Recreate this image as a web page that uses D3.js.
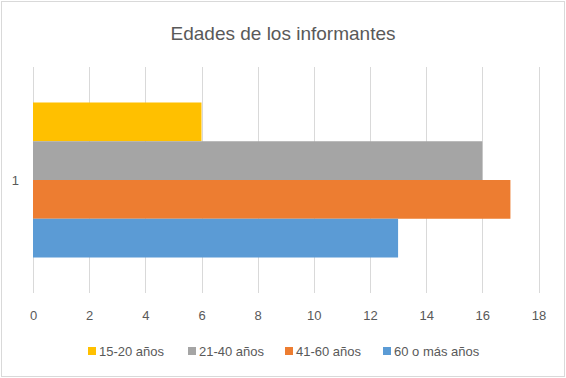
<!DOCTYPE html>
<html>
<head>
<meta charset="utf-8">
<script src="https://d3js.org/d3.v7.min.js"></script>
<style>
body { margin: 0; background: #fff; }
svg text { font-family: "Liberation Sans", Arial, sans-serif; fill: #595959; }
</style>
</head>
<body>
<div id="chart"></div>
<script>
var categories = ["1"];
var series = ["15-20 años", "21-40 años", "41-60 años", "60 o más años"];
var values = [6, 16, 17, 13];
var colours = ["#FFC000", "#A5A5A5", "#ED7D31", "#5B9BD5"];
var ticks = [0, 2, 4, 6, 8, 10, 12, 14, 16, 18];

function init() {
	var w = 566;
	var h = 378;

	var svg = d3.select("#chart")
		.append("svg")
		.attr("width", w)
		.attr("height", h);

	// outer border
	svg.append("rect")
		.attr("x", 1.5).attr("y", 1.5)
		.attr("width", w - 3).attr("height", h - 3)
		.attr("fill", "#fff")
		.attr("stroke", "#D9D9D9")
		.attr("stroke-width", 1);

	svg.append("text")
		.attr("x", w / 2)
		.attr("y", 40)
		.attr("text-anchor", "middle")
		.style("font-size", "19px")
		.text("Edades de los informantes");

	var x = d3.scaleLinear()
		.domain([0, 18])
		.range([33, 538.5]);

	var y = d3.scaleBand()
		.domain(categories)
		.range([67, 293])
		.paddingInner(0)
		.paddingOuter(0.229);

	var ys = d3.scaleBand()
		.domain(series)
		.range([0, y.bandwidth()]);

	// gridlines
	svg.append("g")
		.selectAll("line")
		.data(ticks)
		.join("line")
			.attr("x1", d => Math.round(x(d)) + 0.5)
			.attr("x2", d => Math.round(x(d)) + 0.5)
			.attr("y1", 67)
			.attr("y2", 293)
			.attr("stroke", "#D9D9D9")
			.attr("stroke-width", 1);

	// bars
	svg.append("g")
		.selectAll("g")
		.data(categories)
		.join("g")
			.attr("transform", d => `translate(0,${y(d)})`)
		.selectAll("rect")
		.data(series.map((s, i) => ({ s: s, v: values[i], c: colours[i] })))
		.join("rect")
			.attr("x", x(0))
			.attr("y", d => ys(d.s))
			.attr("width", d => x(d.v) - x(0))
			.attr("height", ys.bandwidth())
			.attr("fill", d => d.c);

	// x axis labels
	svg.append("g")
		.attr("transform", "translate(0,320)")
		.call(d3.axisBottom(x).tickValues(ticks).tickSize(0).tickPadding(0))
		.call(g => g.select(".domain").remove())
		.call(g => g.selectAll("text")
			.attr("dy", 0)
			.style("font-size", "13px")
			.style("fill", "#595959"));

	// y axis labels
	svg.append("g")
		.attr("transform", "translate(19,0)")
		.call(d3.axisLeft(y).tickSize(0).tickPadding(0))
		.call(g => g.select(".domain").remove())
		.call(g => g.selectAll("text")
			.attr("dy", "0.35em")
			.style("font-size", "13px")
			.style("fill", "#595959"));

	// legend
	var legendX = [88, 188, 285, 383];
	var legend = svg.append("g")
		.selectAll("g")
		.data(series)
		.join("g")
			.attr("transform", (d, i) => `translate(${legendX[i]},351)`);
	legend.append("rect")
		.attr("x", 0).attr("y", -4)
		.attr("width", 8).attr("height", 8)
		.attr("fill", (d, i) => colours[i]);
	legend.append("text")
		.attr("x", 11)
		.attr("y", 0)
		.attr("dy", "0.35em")
		.style("font-size", "13px")
		.text(d => d);
}

window.onload = init;
</script>
</body>
</html>
